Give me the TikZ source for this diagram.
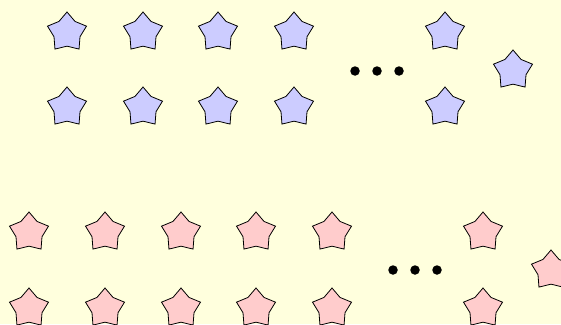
\documentclass[tikz,border=0pt]{standalone}
\usetikzlibrary{shapes.geometric}
\definecolor{bgYellow}{HTML}{FFFFDD}
\definecolor{starBlue}{HTML}{CCCCFF}
\definecolor{starPink}{HTML}{FFCCCC}
\tikzset{
    starbase/.style={star, star points=5, star point ratio=1.5, draw=black, line width=0.8pt, minimum size=41pt, inner sep=0pt},
    bluestar/.style={starbase, fill=starBlue},
    pinkstar/.style={starbase, fill=starPink},
    dotmark/.style={circle, fill=black, minimum size=9.5pt, inner sep=0pt}
}
\begin{document}
\begin{tikzpicture}[x=1pt, y=-1pt]

    % Background
    \fill[bgYellow] (0,0) rectangle (561,324);
    \useasboundingbox (0,0) rectangle (561,324);
    \clip (0,0) rectangle (561,324);

    % Blue group
    \foreach \i/\x in {1/67,2/143,3/218,4/294,5/445} {
        \node[bluestar] (blueA\i) at (\x,32.5) {};
        \node[bluestar] (blueB\i) at (\x,107.5) {};
    }
    \foreach \i/\x in {1/355,2/377,3/399}
        \node[dotmark] (bluedot\i) at (\x,71) {};
    \node[bluestar] (blueX) at (513,70.5) {};

    % Pink group
    \foreach \i/\x in {1/29,2/105,3/181,4/256,5/332,6/483} {
        \node[pinkstar] (pinkA\i) at (\x,232.5) {};
        \node[pinkstar] (pinkB\i) at (\x,308.5) {};
    }
    \foreach \i/\x in {1/393,2/415,3/437}
        \node[dotmark] (pinkdot\i) at (\x,270) {};
    \node[pinkstar] (pinkX) at (551,270.5) {};

\end{tikzpicture}
\end{document}
